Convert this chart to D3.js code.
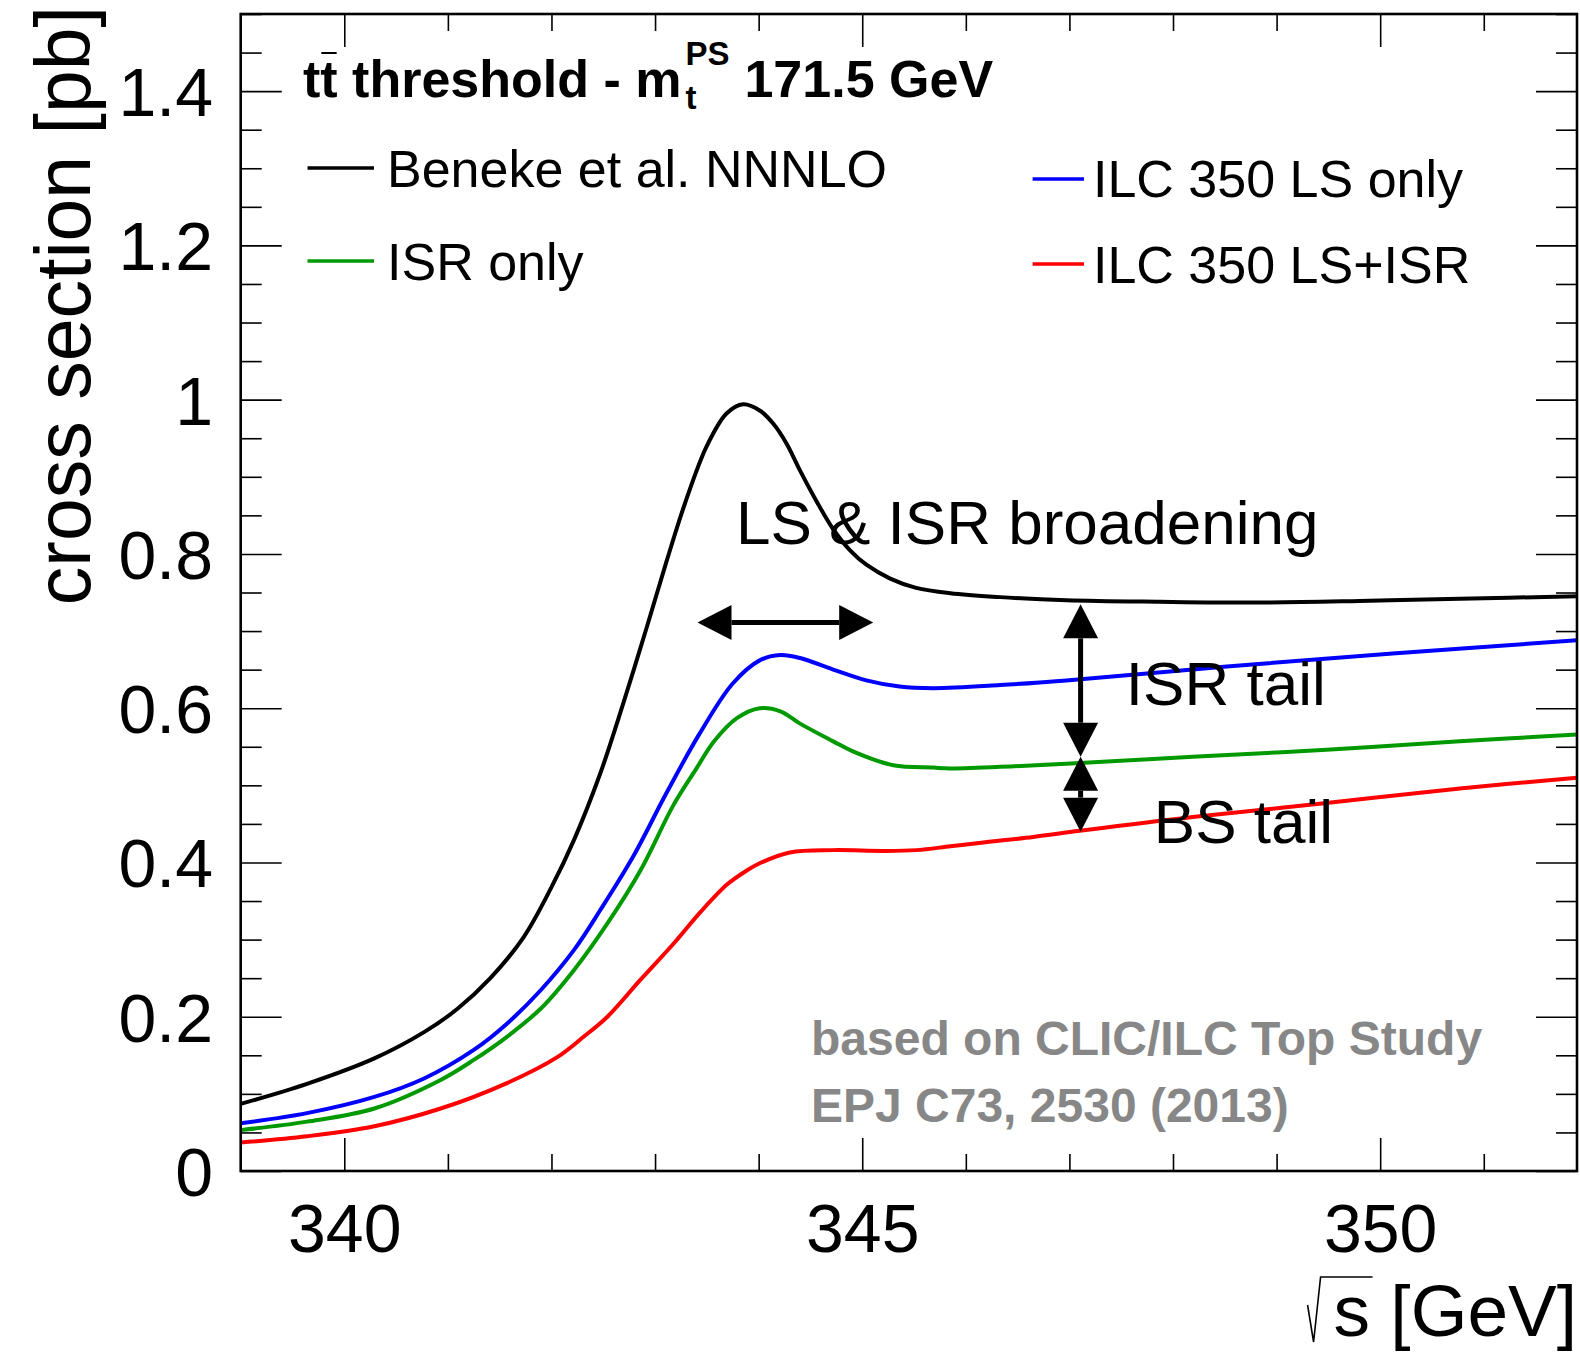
<!DOCTYPE html>
<html>
<head>
<meta charset="utf-8">
<script src="https://cdn.jsdelivr.net/npm/d3@7"></script>
<style>
  body { margin: 0; background: #fff; }
  text { font-family: "Liberation Sans", Arial, Helvetica, sans-serif; }
</style>
</head>
<body>
<div id="chart-area"></div>
<script>

var width = 1580,
    height = 1353;

// Curves: [sqrt(s) in GeV, cross section in pb]
var nnnlo = [[339.00,0.087],[339.64,0.113],[340.29,0.146],[340.77,0.180],[341.09,0.210],[341.41,0.250],
    [341.73,0.303],[342.00,0.368],[342.22,0.430],[342.47,0.515],[342.69,0.605],[342.92,0.705],[343.11,0.790],
    [343.29,0.866],[343.50,0.940],[343.69,0.982],[343.85,0.994],[344.01,0.986],[344.14,0.969],[344.27,0.943],
    [344.40,0.908],[344.56,0.868],[344.72,0.832],[344.88,0.805],[345.04,0.786],[345.27,0.768],[345.52,0.756],
    [345.85,0.749],[346.33,0.744],[346.97,0.740],[347.87,0.738],[348.84,0.737],[349.80,0.739],[350.77,0.742],
    [351.90,0.745]];

var lsOnly = [[339.00,0.062],[339.64,0.075],[340.29,0.096],[340.77,0.120],[341.25,0.157],[341.57,0.191],
    [341.90,0.235],[342.22,0.287],[342.47,0.338],[342.79,0.408],[343.11,0.490],[343.43,0.567],[343.75,0.632],
    [344.01,0.662],[344.21,0.669],[344.40,0.665],[344.72,0.650],[345.04,0.636],[345.36,0.628],[345.69,0.626],
    [346.33,0.630],[346.97,0.636],[348.52,0.654],[350.12,0.671],[351.90,0.688]];

var isrOnly = [[339.00,0.053],[339.64,0.064],[340.29,0.081],[340.93,0.118],[341.25,0.144],[341.57,0.174],
    [341.90,0.211],[342.22,0.261],[342.54,0.321],[342.86,0.390],[343.18,0.475],[343.40,0.522],[343.57,0.557],
    [343.79,0.587],[344.01,0.600],[344.21,0.596],[344.40,0.580],[344.72,0.557],[344.91,0.544],[345.30,0.526],
    [345.69,0.523],[345.81,0.522],[346.33,0.524],[346.97,0.528],[348.19,0.537],[349.48,0.546],[350.77,0.557],
    [351.90,0.566]];

var lsIsr = [[339.00,0.037],[339.64,0.045],[340.29,0.058],[340.93,0.081],[341.57,0.114],[342.06,0.148],
    [342.31,0.174],[342.54,0.200],[342.86,0.248],[343.18,0.295],[343.44,0.336],[343.70,0.372],[343.89,0.390],
    [344.01,0.399],[344.30,0.413],[344.72,0.416],[345.20,0.415],[345.52,0.416],[345.85,0.421],[346.17,0.426],
    [346.65,0.433],[347.10,0.441],[348.19,0.459],[349.48,0.477],[350.77,0.496],[351.90,0.510]];

// Axis ticks
var xMajorTicks = [340, 345, 350];
var xMinorTicks = [341, 342, 343, 344, 346, 347, 348, 349, 351];
var yMajorTicks = [0, 0.2, 0.4, 0.6, 0.8, 1, 1.2, 1.4];
var yTickLabels = ["0", "0.2", "0.4", "0.6", "0.8", "1", "1.2", "1.4"];
var yMinorTicks = d3.range(0, 31).map(function(i) { return i * 0.05; })
    .filter(function(v, i) { return i % 4 != 0; });

// Legend
var legendLeft = ["Beneke et al. NNNLO", "ISR only"];
var legendRight = ["ILC 350 LS only", "ILC 350 LS+ISR"];

// Annotation arrows (data coordinates)
var arrowBroad = [[343.41, 0.711], [345.106, 0.711]];
var arrowIsr = [[347.108, 0.7347], [347.108, 0.5371]];
var arrowBs = [[347.108, 0.5371], [347.108, 0.4399]];

var svg = d3.select("#chart-area").append("svg")
    .attr("width", width)
    .attr("height", height);

var x = d3.scaleLinear().domain([339, 351.9]).range([240.7, 1577]);
var y = d3.scaleLinear().domain([0, 1.5]).range([1171, 14]);

var fontFam = '"Liberation Sans", Arial, Helvetica, sans-serif';

function styleTicks(g) {
    g.select(".domain").remove();
    g.selectAll(".tick line").attr("stroke", "#000").attr("stroke-width", 1.6);
}

// Curves
svg.append("clipPath").attr("id", "clip")
    .append("rect")
    .attr("x", x(339)).attr("y", y(1.5))
    .attr("width", x(351.9) - x(339)).attr("height", y(0) - y(1.5));

var line = d3.line()
    .x(function(d) { return x(d[0]); })
    .y(function(d) { return y(d[1]); })
    .curve(d3.curveCatmullRom.alpha(0.5));

var series = [
    {data: lsIsr, color: "#ff0000"},
    {data: isrOnly, color: "#009a00"},
    {data: lsOnly, color: "#0000ff"},
    {data: nnnlo, color: "#000000"}
];

svg.append("g").attr("clip-path", "url(#clip)")
    .selectAll("path")
    .data(series)
    .enter().append("path")
    .attr("d", function(d) { return line(d.data); })
    .attr("fill", "none")
    .attr("stroke", function(d) { return d.color; })
    .attr("stroke-width", 4)
    .attr("stroke-linejoin", "round");

// Ticks: bottom / top
svg.append("g").attr("transform", "translate(0," + y(0) + ")")
    .call(d3.axisBottom(x).tickValues(xMinorTicks).tickSize(-17).tickFormat(""))
    .call(styleTicks);

var gx = svg.append("g").attr("transform", "translate(0," + y(0) + ")")
    .call(d3.axisBottom(x).tickValues(xMajorTicks).tickSize(-33).tickFormat(d3.format("d")))
    .call(styleTicks)
    .attr("font-size", 68)
    .attr("font-family", fontFam);
gx.selectAll("text").attr("y", 81).attr("dy", 0).attr("fill", "#000");

svg.append("g").attr("transform", "translate(0," + y(1.5) + ")")
    .call(d3.axisTop(x).tickValues(xMinorTicks).tickSize(-17).tickFormat(""))
    .call(styleTicks);
svg.append("g").attr("transform", "translate(0," + y(1.5) + ")")
    .call(d3.axisTop(x).tickValues(xMajorTicks).tickSize(-33).tickFormat(""))
    .call(styleTicks);

// Ticks: left / right
svg.append("g").attr("transform", "translate(" + x(339) + ",0)")
    .call(d3.axisLeft(y).tickValues(yMinorTicks).tickSize(-21).tickFormat(""))
    .call(styleTicks);

var gy = svg.append("g").attr("transform", "translate(" + x(339) + ",0)")
    .call(d3.axisLeft(y).tickValues(yMajorTicks).tickSize(-41)
        .tickFormat(function(d, i) { return yTickLabels[i]; }))
    .call(styleTicks)
    .attr("font-size", 68)
    .attr("font-family", fontFam);
gy.selectAll("text").attr("x", -27.7).attr("dy", "0.36em").attr("fill", "#000");

svg.append("g").attr("transform", "translate(" + x(351.9) + ",0)")
    .call(d3.axisRight(y).tickValues(yMinorTicks).tickSize(-21).tickFormat(""))
    .call(styleTicks);
svg.append("g").attr("transform", "translate(" + x(351.9) + ",0)")
    .call(d3.axisRight(y).tickValues(yMajorTicks).tickSize(-41).tickFormat(""))
    .call(styleTicks);

// Frame
svg.append("rect")
    .attr("x", x(339)).attr("y", y(1.5))
    .attr("width", x(351.9) - x(339)).attr("height", y(0) - y(1.5))
    .attr("fill", "none")
    .attr("stroke", "#000")
    .attr("stroke-width", 2.6);

// Axis titles
svg.append("text")
    .attr("transform", "translate(90,6) rotate(-90)")
    .attr("text-anchor", "end")
    .attr("font-size", 77)
    .text("cross section [pb]");

var xt = svg.append("text")
    .attr("x", 1577).attr("y", 1336)
    .attr("text-anchor", "end")
    .attr("font-size", 73)
    .text("s [GeV]");
var sx = 1577 - xt.node().getComputedTextLength();
svg.append("path")
    .attr("d", "M" + (sx - 26) + "," + 1305 + "L" + (sx - 20) + "," + 1342 +
        "L" + (sx - 13) + "," + 1277 + "L" + (sx + 39) + "," + 1277)
    .attr("fill", "none")
    .attr("stroke", "#000")
    .attr("stroke-width", 1.6);

// Title: tt threshold - m_t^PS 171.5 GeV
var title = svg.append("g").attr("font-weight", "bold");
var t1 = title.append("text").attr("x", 303).attr("y", 97).attr("font-size", 52)
    .text("tt threshold - m");
var w1 = t1.node().getComputedTextLength();
var wt = t1.node().getSubStringLength(0, 1);
title.append("line")
    .attr("x1", 303 + wt + 1).attr("x2", 303 + 2 * wt - 1)
    .attr("y1", 53).attr("y2", 53)
    .attr("stroke", "#000").attr("stroke-width", 2);
var supX = 303 + w1 + 4;
var sup = title.append("text").attr("x", supX).attr("y", 65).attr("font-size", 33).text("PS");
title.append("text").attr("x", supX).attr("y", 109).attr("font-size", 33).text("t");
title.append("text").attr("x", supX + sup.node().getComputedTextLength() + 15).attr("y", 97)
    .attr("font-size", 52)
    .text("171.5 GeV");

// Legends
var legL = svg.append("g").attr("font-size", 52);
legL.selectAll("line")
    .data(legendLeft)
    .enter().append("line")
    .attr("x1", 307.5).attr("x2", 374)
    .attr("y1", function(d, i) { return [168, 261][i]; })
    .attr("y2", function(d, i) { return [168, 261][i]; })
    .attr("stroke", function(d, i) { return ["#000000", "#009a00"][i]; })
    .attr("stroke-width", 3.4);
legL.selectAll("text")
    .data(legendLeft)
    .enter().append("text")
    .attr("x", 387)
    .attr("y", function(d, i) { return [187, 280][i]; })
    .text(function(d) { return d; });

var legR = svg.append("g").attr("font-size", 52);
legR.selectAll("line")
    .data(legendRight)
    .enter().append("line")
    .attr("x1", 1032.6).attr("x2", 1084)
    .attr("y1", function(d, i) { return [179, 264][i]; })
    .attr("y2", function(d, i) { return [179, 264][i]; })
    .attr("stroke", function(d, i) { return ["#0000ff", "#ff0000"][i]; })
    .attr("stroke-width", 3.4);
legR.selectAll("text")
    .data(legendRight)
    .enter().append("text")
    .attr("x", 1093)
    .attr("y", function(d, i) { return [197, 283][i]; })
    .text(function(d) { return d; });

// Annotations
function drawArrow(pts) {
    var x1 = x(pts[0][0]), y1 = y(pts[0][1]),
        x2 = x(pts[1][0]), y2 = y(pts[1][1]);
    var len = Math.sqrt((x2 - x1) * (x2 - x1) + (y2 - y1) * (y2 - y1));
    var ux = (x2 - x1) / len, uy = (y2 - y1) / len;
    var px = -uy, py = ux;
    var hl = 34, hw = 17.5;
    var g = svg.append("g");
    g.append("line")
        .attr("x1", x1 + ux * hl).attr("y1", y1 + uy * hl)
        .attr("x2", x2 - ux * hl).attr("y2", y2 - uy * hl)
        .attr("stroke", "#000").attr("stroke-width", 5);
    function head(tx, ty, dx, dy) {
        var bx = tx - dx * hl, by = ty - dy * hl;
        return "M" + tx + "," + ty + "L" + (bx + px * hw) + "," + (by + py * hw) +
            "L" + (bx - px * hw) + "," + (by - py * hw) + "Z";
    }
    g.append("path").attr("d", head(x2, y2, ux, uy)).attr("fill", "#000");
    g.append("path").attr("d", head(x1, y1, -ux, -uy)).attr("fill", "#000");
}
drawArrow(arrowBroad);
drawArrow(arrowIsr);
drawArrow(arrowBs);

svg.append("text").attr("x", x(343.781)).attr("y", y(0.813)).attr("font-size", 62)
    .text("LS & ISR broadening");
svg.append("text").attr("x", x(347.545)).attr("y", y(0.6042)).attr("font-size", 62)
    .text("ISR tail");
svg.append("text").attr("x", x(347.815)).attr("y", y(0.4257)).attr("font-size", 62)
    .text("BS tail");

// Reference note
var note = svg.append("g").attr("font-size", 48).attr("font-weight", "bold").attr("fill", "#878787");
note.append("text").attr("x", 811).attr("y", 1055).text("based on CLIC/ILC Top Study");
note.append("text").attr("x", 811).attr("y", 1122).text("EPJ C73, 2530 (2013)");

</script>
</body>
</html>
